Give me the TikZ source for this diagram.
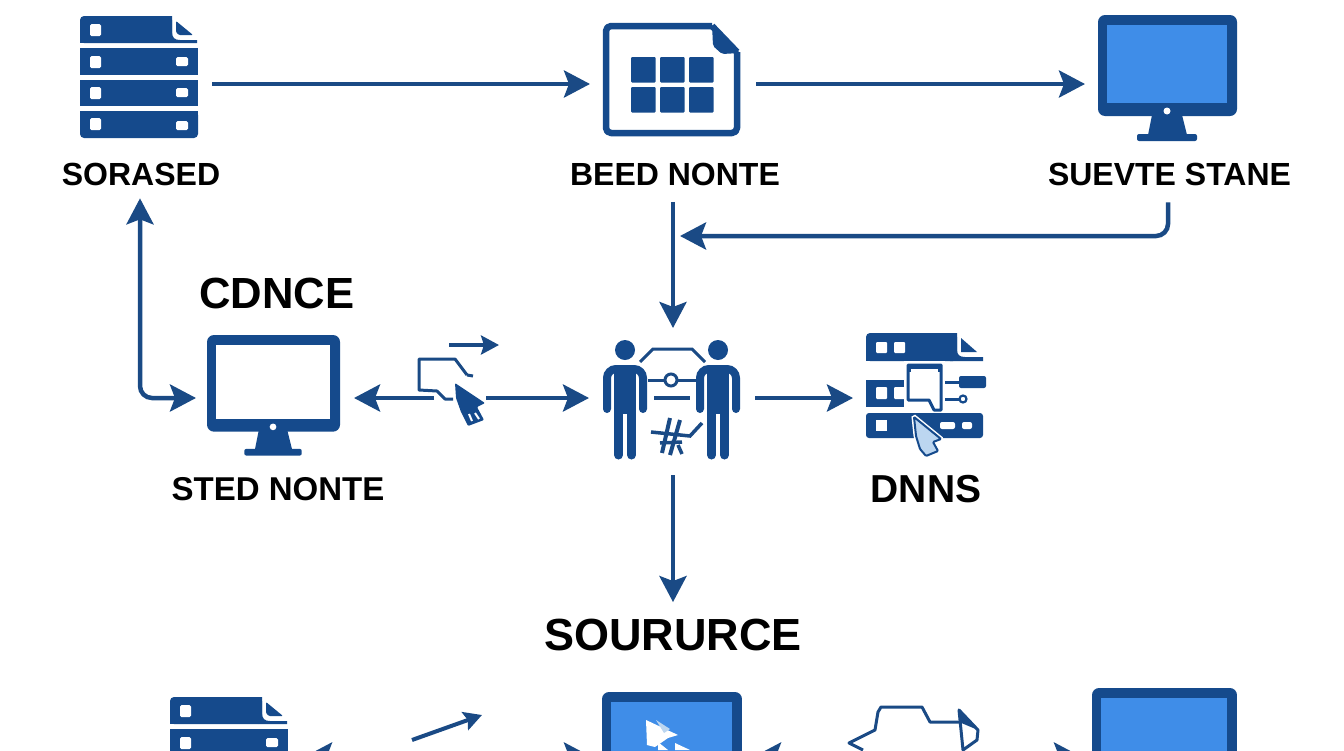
\documentclass[tikz,border=0pt]{standalone}
\usepackage{fontspec}
\setmainfont{Liberation Sans}
\usetikzlibrary{arrows.meta,calc}
\definecolor{navy}{HTML}{154A8C}
\definecolor{linecol}{HTML}{1A4A85}
\definecolor{screenblue}{HTML}{3F8DE8}
\definecolor{cursorpale}{HTML}{BCD6F0}
\tikzset{
  bigtip/.tip={Stealth[length=26pt,width=27pt,inset=5pt]},
  smalltip/.tip={Stealth[length=18pt,width=19pt,inset=3pt]},
  conn/.style={draw=linecol,line width=4.5pt,-{bigtip}},
  connboth/.style={draw=linecol,line width=4.5pt,{bigtip}-{bigtip}},
  thinconn/.style={draw=linecol,line width=4pt,-{smalltip}},
  iconbox/.style={inner sep=0pt,outer sep=0pt,draw=none,fill=none},
  lab/.style={inner sep=0pt,outer sep=0pt,text=black,font=\bfseries\fontsize{#1}{#1}\selectfont},
  outline/.style={draw=linecol,line width=3pt,fill=none,line join=round},
}
\newcommand{\serverIcon}[2]{%
\begin{scope}[shift={(#1,#2)}]
 \fill[navy,rounded corners=4pt] (0,27) -- (0,0) -- (92,0) -- (92,27) -- cycle;
 \fill[navy] (0,12) rectangle (92,27);
 \fill[navy] (88,0) -- (92,0) -- (92,16) .. controls (92,22) and (95,24) .. (100,24) -- (117,24) -- (117,27) -- (88,27) -- cycle;
 \fill[navy,rounded corners=1pt] (96,5) -- (113,19) -- (99,19) -- (96,16) -- cycle;
 \fill[navy] (0,32) rectangle (118,59);
 \fill[navy] (0,64) rectangle (118,90);
 \fill[navy,rounded corners=4pt] (0,95) -- (118,95) -- (118,122) -- (0,122) -- cycle;
 \fill[navy] (0,95) rectangle (118,110);
 \foreach \a in {8,40,71,102}{\fill[white,rounded corners=1.5pt] (10,\a) -- (21,\a) -- (21,\a+12) -- (10,\a+12) -- cycle;}
 \foreach \a in {41,72,105}{\fill[white,rounded corners=1.5pt] (96,\a) -- (108,\a) -- (108,\a+9) -- (96,\a+9) -- cycle;}
\end{scope}}
\newcommand{\monitorIcon}[4]{%
\begin{scope}[shift={(#1,#2)},scale=#3]
 \fill[navy,rounded corners=2pt] (39,119) -- (99,119) -- (99,126) -- (39,126) -- cycle;
 \fill[navy] (54,100) -- (84,100) -- (89,120) -- (50,120) -- cycle;
 \fill[navy,rounded corners=7pt] (0,0) -- (139,0) -- (139,101) -- (0,101) -- cycle;
 \fill[#4] (9,10) rectangle (129,88);
 \fill[white] (69,96) circle (3.5);
\end{scope}}
\newcommand{\personIcon}[1]{%
\begin{scope}[shift={(#1,0)}]
 \fill[navy] (0,350) circle (10);
 \draw[navy,line width=8pt,line cap=round,rounded corners=9pt] (-18,409) -- (-18,369) -- (18,369) -- (18,409);
 \fill[navy] (-11,366) rectangle (11,414);
 \draw[navy,line width=9pt,line cap=round] (-6.5,410) -- (-6.5,455);
 \draw[navy,line width=9pt,line cap=round] (6.5,410) -- (6.5,455);
\end{scope}}
\begin{document}
\begin{tikzpicture}[x=1pt,y=-1pt]
\useasboundingbox (0,0) rectangle (1344,750);
\clip (0,0) rectangle (1344,750);
\fill[white] (0,0) rectangle (1344,750);

% icon anchor nodes
\node[iconbox,minimum width=118pt,minimum height=122pt] (srv) at (139,77) {};
\node[iconbox,minimum width=137pt,minimum height=113pt] (beed) at (671.5,79.5) {};
\node[iconbox,minimum width=139pt,minimum height=126pt] (suevte) at (1167.5,78) {};
\node[iconbox,minimum width=133pt,minimum height=119pt] (sted) at (273.5,394.5) {};
\node[iconbox,minimum width=52pt,minimum height=60pt] (ptr) at (460,398) {};
\node[iconbox,minimum width=139pt,minimum height=120pt] (people) at (672.5,400) {};
\node[iconbox,minimum width=120pt,minimum height=112pt] (dnnsicon) at (926,389) {};
\node[iconbox,minimum width=117pt,minimum height=66pt] (srvb) at (228.5,730) {};
\node[iconbox,minimum width=50pt,minimum height=20pt] (ptrb) at (445,756) {};
\node[iconbox,minimum width=140pt,minimum height=126pt] (monb) at (672,755) {};
\node[iconbox,minimum width=129pt,minimum height=50pt] (gadget) at (913.5,735) {};
\node[iconbox,minimum width=145pt,minimum height=126pt] (monc) at (1164.5,751) {};
\coordinate (joinb) at (680,236);
\coordinate (miniA) at (449,345);
\coordinate (miniB) at (499,345);
\coordinate (miniC) at (412,740);
\coordinate (miniD) at (482,715);

% labels
\node[lab=32] (l1) at (141,174) {SORASED};
\node[lab=32] (l2) at (675,174) {BEED NONTE};
\node[lab=32] (l3) at (1169.5,174) {SUEVTE STANE};
\node[lab=43.6] (l4) at (277,293) {CDNCE};
\node[lab=33] (l5) at (278,489) {STED NONTE};
\node[lab=39] (l6) at (926,489) {DNNS};
\node[lab=45] (l7) at (673,635) {SOURURCE};

% icons
\serverIcon{80}{16}
\monitorIcon{1098}{15}{1}{screenblue}
\monitorIcon{207}{335}{0.957}{white}
\serverIcon{170}{697}
\monitorIcon{602}{692}{1.007}{screenblue}
\monitorIcon{1092}{688}{1.043}{screenblue}

% document icon
\draw[navy,line width=6.5pt,rounded corners=5pt,line join=round] (712,26) -- (606,26) -- (606,133) -- (737,133) -- (737,52);
\draw[navy,line width=6.5pt] (712,26) -- (737,52);
\fill[navy,rounded corners=2pt] (712,24) -- (740,53) -- (722,54) -- (713,46) -- cycle;
\foreach \cx in {631,660,689}{\foreach \cy in {57,87}{\fill[navy,rounded corners=1pt] (\cx,\cy) -- (\cx+24.5,\cy) -- (\cx+24.5,\cy+25.5) -- (\cx,\cy+25.5) -- cycle;}}

% people gadget
\draw[linecol,line width=3pt] (640,362) -- (653,349) -- (692,349) -- (705,362);
\draw[linecol,line width=3pt] (648,380) -- (697,380);
\draw[linecol,line width=3pt,fill=white] (671,380) circle (6);
\draw[linecol,line width=4pt] (654,398) -- (690,398);
\draw[linecol,line width=4pt] (670,418) -- (662,453);
\draw[linecol,line width=4pt] (680,420) -- (670,455);
\draw[linecol,line width=3.5pt] (651,432) -- (690,436) -- (702,423);
\draw[linecol,line width=3.5pt] (660,443) -- (682,442);
\draw[linecol,line width=3.5pt] (678,445) -- (682,454);
\personIcon{625}
\personIcon{718}

% mid pointer
\draw[outline] (467,375) -- (473,376);
\draw[outline] (467,375) -- (455,359) -- (419,359) -- (419,390) -- (437,391) -- (445,399) -- (453,399);
\fill[navy,rounded corners=1pt] (455,383) -- (485,403) -- (477,407) -- (484,420) -- (468,426) -- (461,412) -- (456,398) -- cycle;
\draw[white,line width=2pt] (469,414) -- (472,421);
\draw[white,line width=2pt] (475,413) -- (479,419);

% DNNS icon
\fill[navy,rounded corners=4pt] (866,361) -- (866,333) -- (957,333) -- (957,361) -- cycle;
\fill[navy] (866,345) rectangle (957,361);
\fill[navy] (950,333) -- (957,333) -- (957,350) .. controls (957,355) and (960,357) .. (965,357) -- (983,357) -- (983,361) -- (950,361) -- cycle;
\fill[navy] (961,338) -- (977,352) -- (961,352) -- cycle;
\foreach \sx in {876,894}{\fill[white,rounded corners=1pt] (\sx,342) -- (\sx+11,342) -- (\sx+11,353) -- (\sx,353) -- cycle;}
\fill[navy] (866,380) rectangle (925,407);
\foreach \sx in {876,894}{\fill[white,rounded corners=1pt] (\sx,387) -- (\sx+11,387) -- (\sx+11,399) -- (\sx,399) -- cycle;}
\fill[navy,rounded corners=3pt] (866,413) -- (983,413) -- (983,438) -- (866,438) -- cycle;
\fill[white] (876,420) rectangle (887,431);
\fill[white,rounded corners=2pt] (940,422) -- (955,422) -- (955,429) -- (940,429) -- cycle;
\fill[white,rounded corners=2pt] (962,422) -- (972,422) -- (972,429) -- (962,429) -- cycle;
\fill[white] (904,361) rectangle (945,411);
\draw[navy,line width=3pt,fill=white,line join=round] (908,365) -- (941,365) -- (941,410) -- (934,410) -- (929,400) -- (915,400) -- (908,400) -- cycle;
\fill[navy] (908,365) rectangle (941,372);
\fill[white] (911,369) rectangle (938,372);
\draw[navy,line width=3pt] (945,382) -- (960,382);
\fill[navy,rounded corners=2pt] (959,376) -- (986,376) -- (986,388) -- (959,388) -- cycle;
\draw[navy,line width=3pt] (945,399) -- (959,399);
\draw[navy,line width=2.2pt,fill=white] (963,399) circle (3.5);
\draw[navy,line width=2pt,fill=cursorpale,rounded corners=1pt,preaction={draw=white,line width=5pt}] (914,417) -- (941,439) -- (933,442) -- (938,451) -- (926,456) -- (920,449) -- (916,436) -- cycle;

% bottom centre cursor
\fill[white] (646,720) -- (678,735) -- (668,738) -- (655,747) -- (647,745) -- cycle;
\fill[cursorpale] (656,720) -- (670,729) -- (664,733) -- cycle;
\fill[white] (658,742) -- (668,750) -- (658,750) -- cycle;
\fill[white] (675,743) -- (690,750) -- (675,750) -- cycle;

% bottom right outline
\draw[outline] (863,750) -- (849,743) -- (875,730) -- (878,712) -- (881,707) -- (922,707) -- (930,722) -- (959,722);
\draw[outline] (959,710) -- (978,730) -- (977,740) -- (963,750) -- cycle;
\fill[linecol] (959,710) -- (978,730) -- (959,722) -- cycle;

% connectors
\draw[conn] ([shift={(14,7)}]srv.east) -- ([shift={(-13,4.5)}]beed.west);
\draw[conn] ([shift={(16,4.5)}]beed.east) -- ([shift={(-13,6)}]suevte.west);
\draw[conn,rounded corners=12pt] ([shift={(-1.5,17)}]l3.south) |- (joinb);
\draw[conn] ([shift={(-2,16.5)}]l2.south) -- ([shift={(0.5,-12)}]people.north);
\draw[connboth,rounded corners=12pt] ([shift={(-1,13)}]l1.south) |- ([shift={(-11,3.5)}]sted.west);
\draw[conn] (ptr.west) -- ([shift={(14,3.5)}]sted.east);
\draw[conn] (ptr.east) -- ([shift={(-14,-2)}]people.west);
\draw[thinconn] (miniA) -- (miniB);
\draw[conn] ([shift={(13,-2)}]people.east) -- ([shift={(-13,9)}]dnnsicon.west);
\draw[conn] ([shift={(0.5,15)}]people.south) -- ([shift={(0,-17)}]l7.north);
\draw[thinconn] (miniC) -- (miniD);
\draw[conn] (ptrb.west) -- ([shift={(19,26)}]srvb.east);
\draw[conn] (ptrb.east) -- ([shift={(-12,1)}]monb.west);
\draw[conn] ([shift={(0,21)}]gadget.west) -- ([shift={(13,1)}]monb.east);
\draw[conn] ([shift={(0,21)}]gadget.east) -- ([shift={(-12,5)}]monc.west);
\end{tikzpicture}
\end{document}
